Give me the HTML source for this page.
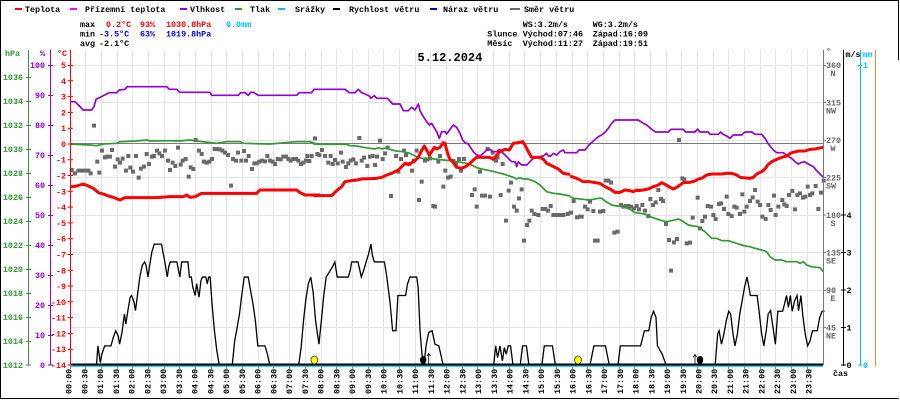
<!DOCTYPE html>
<html><head><meta charset="utf-8">
<style>
html,body{margin:0;padding:0;background:#fff;}
svg{display:block;}
text{font-family:"Liberation Mono","DejaVu Sans Mono",monospace;font-size:8.4px;font-weight:bold;}
</style></head><body>
<svg width="900" height="400" viewBox="0 0 900 400" xmlns="http://www.w3.org/2000/svg">
<rect width="900" height="400" fill="#fff"/>
<!-- frame -->
<g fill="#000">
<rect x="0" y="0" width="899" height="1"/>
<rect x="0" y="0" width="1" height="399"/>
<rect x="0" y="398" width="899" height="1"/>
<rect x="898" y="0" width="1" height="60"/>
</g>

<!-- legend -->
<rect x="15" y="8" width="7" height="2" fill="#ff0000"/><text x="25" y="12">Teplota</text>
<rect x="70" y="8" width="7" height="2" fill="#ff00ff"/><text x="85" y="12">Přízemní teplota</text>
<rect x="180" y="8" width="7" height="2" fill="#9400d3"/><text x="190" y="12">Vlhkost</text>
<rect x="235" y="8" width="7" height="2" fill="#339933"/><text x="250" y="12">Tlak</text>
<rect x="278" y="8" width="7" height="2" fill="#00bfff"/><text x="295" y="12">Srážky</text>
<rect x="333" y="8" width="7" height="2" fill="#000"/><text x="349" y="12">Rychlost větru</text>
<rect x="430" y="8" width="7" height="2" fill="#0000cc"/><text x="443" y="12">Náraz větru</text>
<rect x="510" y="8" width="10" height="2" fill="#6a6a6a"/><text x="524" y="12">Směr větru</text>

<!-- stats -->
<text x="80" y="27">max</text><text x="106" y="27" fill="#ff0000">0.2°C</text><text x="140" y="27" fill="#ff0000">93%</text><text x="166" y="27" fill="#ff0000">1030.8hPa</text><text x="226" y="27" fill="#00bfff">0.0mm</text>
<text x="80" y="36.5">min</text><text x="99" y="36.5" fill="#0000dd">-3.5°C</text><text x="140" y="36.5" fill="#0000dd">63%</text><text x="166" y="36.5" fill="#0000dd">1019.8hPa</text>
<text x="80" y="46">avg</text><text x="99" y="46">-2.1°C</text>
<text x="522.7" y="27">WS:3.2m/s</text><text x="592.7" y="27">WG:3.2m/s</text>
<text x="487.3" y="36.5">Slunce</text><text x="522.7" y="36.5">Východ:07:46</text><text x="592.7" y="36.5">Západ:16:09</text>
<text x="487.3" y="46">Měsíc</text><text x="522.7" y="46">Východ:11:27</text><text x="592.7" y="46">Západ:19:51</text>

<!-- grid -->
<g stroke="#e4e4e4" stroke-width="1">
<path d="M85.5 50V365M101.5 50V365M117.5 50V365M132.5 50V365M148.5 50V365M164.5 50V365M179.5 50V365M195.5 50V365M211.5 50V365M226.5 50V365M242.5 50V365M258.5 50V365M273.5 50V365M289.5 50V365M305.5 50V365M321.5 50V365M336.5 50V365M352.5 50V365M368.5 50V365M383.5 50V365M399.5 50V365M415.5 50V365M430.5 50V365M446.5 50V365M462.5 50V365M477.5 50V365M493.5 50V365M509.5 50V365M524.5 50V365M540.5 50V365M556.5 50V365M572.5 50V365M587.5 50V365M603.5 50V365M619.5 50V365M634.5 50V365M650.5 50V365M666.5 50V365M681.5 50V365M697.5 50V365M713.5 50V365M728.5 50V365M744.5 50V365M760.5 50V365M775.5 50V365M791.5 50V365M807.5 50V365"/>
<path d="M70 65.5H823M70 102.5H823M70 140.5H823M70 177.5H823M70 215.5H823M70 252.5H823M70 290.5H823M70 327.5H823"/>
</g>
<!-- 0°C line -->
<path d="M70 143.5H823" stroke="#7a7a7a" stroke-width="1"/>

<!-- title -->
<text x="417.5" y="61" style="font-size:12px;font-weight:bold">5.12.2024</text>

<!-- wind direction squares -->
<g fill="none" stroke="#6a6a6a" stroke-width="12" stroke-linecap="square">
<path transform="translate(70,60) scale(0.333333)" d="M5 330h.01M15 340h.01M25 332h.01M35 332h.01M45 332h.01M55 332h.01M62 340h.01M72 197h.01M82 305h.01M88 338h.01M96 272h.01M105 292h.01M112 290h.01M120 290h.01M126 270h.01M135 320h.01M143 298h.01M150 308h.01M158 296h.01M168 332h.01M175 288h.01M181 323h.01M189 335h.01M198 288h.01M206 353h.01M213 326h.01M222 320h.01M230 282h.01M237 312h.01M246 290h.01M252 288h.01M261 272h.01M268 280h.01M276 288h.01M285 272h.01M294 302h.01M300 330h.01M308 308h.01M316 318h.01M324 263h.01M332 314h.01M338 302h.01M347 297h.01M356 350h.01M362 322h.01M370 327h.01M377 240h.01M387 272h.01M395 282h.01M402 305h.01M410 308h.01M418 305h.01M426 297h.01M434 267h.01M441 267h.01M449 268h.01M457 272h.01M465 278h.01M474 285h.01M483 377h.01M489 297h.01M498 302h.01M504 278h.01M514 302h.01M522 273h.01M528 302h.01M536 288h.01M546 327h.01M553 310h.01M560 310h.01M568 305h.01M576 302h.01M585 304h.01M592 288h.01M600 302h.01M608 305h.01M615 312h.01M623 297h.01M632 298h.01M640 290h.01M648 290h.01M655 297h.01M662 302h.01M670 297h.01M678 297h.01M685 302h.01M693 312h.01M700 308h.01M708 302h.01M712 288h.01M718 303h.01"/>
<path transform="translate(310,70) scale(0.333333)" d="M5 258h.01M15 205h.01M22 252h.01M28 255h.01M36 240h.01M45 258h.01M55 278h.01M62 258h.01M68 282h.01M75 270h.01M83 280h.01M93 248h.01M98 275h.01M108 291h.01M115 280h.01M122 272h.01M130 268h.01M138 280h.01M148 204h.01M155 272h.01M162 263h.01M172 288h.01M180 260h.01M188 258h.01M195 285h.01M201 260h.01M210 212h.01M218 267h.01M225 250h.01M233 233h.01M243 378h.01M258 258h.01M265 305h.01M273 267h.01M282 242h.01M288 255h.01M298 282h.01M306 302h.01M312 272h.01M320 242h.01M327 390h.01M335 335h.01M345 272h.01M352 268h.01M360 265h.01M370 408h.01M375 410h.01M385 275h.01M390 258h.01M400 350h.01M406 302h.01M414 323h.01M422 320h.01M430 273h.01M438 282h.01M447 267h.01M453 302h.01M462 267h.01M486 375h.01M494 358h.01M500 410h.01M510 305h.01M516 377h.01M525 377h.01M533 237h.01M540 380h.01M548 248h.01M558 272h.01M563 262h.01M572 375h.01M578 282h.01M588 452h.01M596 362h.01M603 338h.01M612 410h.01M620 422h.01M627 385h.01M635 358h.01M642 512h.01M651 465h.01M658 452h.01M665 422h.01M673 432h.01M685 435h.01M698 417h.01M706 417h.01M714 422h.01M722 408h.01M730 435h.01M740 435h.01M750 435h.01M760 435h.01"/>
<path transform="translate(565,70) scale(0.333333)" d="M8 432h.01M18 428h.01M26 393h.01M36 442h.01M45 440h.01M50 440h.01M60 410h.01M68 418h.01M75 395h.01M85 423h.01M90 512h.01M98 512h.01M105 425h.01M115 423h.01M122 332h.01M130 332h.01M138 338h.01M148 488h.01M158 485h.01M168 405h.01M175 410h.01M183 408h.01M190 408h.01M198 410h.01M207 415h.01M215 408h.01M222 418h.01M232 405h.01M240 422h.01M250 438h.01M256 387h.01M264 405h.01M272 397h.01M280 360h.01M288 387h.01M294 393h.01M303 462h.01M312 510h.01M318 602h.01M327 517h.01M336 507h.01M342 210h.01M352 325h.01M358 328h.01M365 520h.01M375 518h.01M383 443h.01M398 383h.01M405 475h.01M412 453h.01M420 440h.01M428 408h.01M438 410h.01M445 435h.01M452 447h.01M462 402h.01M468 400h.01M477 417h.01M485 380h.01M490 432h.01M500 438h.01M508 410h.01M515 413h.01M525 432h.01M532 373h.01M538 425h.01M545 410h.01M555 393h.01M563 382h.01M570 360h.01M578 395h.01M585 405h.01M592 440h.01M602 447h.01M610 405h.01M617 420h.01M627 377h.01M632 435h.01M640 410h.01M652 390h.01M658 403h.01M665 408h.01M672 375h.01M682 363h.01M690 418h.01M697 375h.01M705 370h.01M714 383h.01M721 380h.01M728 350h.01M735 375h.01M742 370h.01M752 348h.01M760 417h.01M768 368h.01M776 332h.01"/>
</g>

<!-- pressure -->
<g fill="none" stroke="#339933" stroke-width="1.7" stroke-linejoin="round">
<polyline vector-effect="non-scaling-stroke" transform="translate(70,60) scale(0.333333)" points="0,252 60,255 80,257 100,252 140,250 150,245 200,243 230,240 240,243 290,242 330,243 360,240 380,243 440,250 470,245 510,245 520,250 600,252 680,245 720,245 740,252 750,252"/>
<polyline vector-effect="non-scaling-stroke" transform="translate(310,70) scale(0.333333)" points="10,222 30,223 60,223 110,223 120,227 140,228 160,232 180,235 195,237 205,233 215,237 230,233 245,240 260,243 280,245 300,250 320,260 335,265 350,265 375,267 400,270 420,272 440,275 460,278 480,283 500,293 520,298 540,302 560,307 580,312 595,317 610,322 620,327 630,323 640,327 655,327 675,335 690,345 710,365 730,370 750,372 765,375 780,378"/>
<polyline vector-effect="non-scaling-stroke" transform="translate(565,70) scale(0.333333)" points="15,380 25,385 55,388 70,390 85,388 100,385 110,385 120,393 140,405 155,408 170,408 180,412 195,418 210,428 225,430 240,432 255,440 270,445 290,452 305,455 320,452 340,447 355,455 370,465 385,468 400,470 420,485 440,505 455,505 470,512 490,512 520,522 540,528 555,530 570,535 590,540 605,545 615,560 630,570 650,570 665,575 695,575 705,580 715,575 725,585 740,590 765,593 775,605"/>
</g>

<!-- humidity -->
<g fill="none" stroke="#9400d3" stroke-width="1.7" stroke-linejoin="round">
<polyline vector-effect="non-scaling-stroke" transform="translate(70,60) scale(0.333333)" points="0,125 15,125 25,135 40,150 65,150 72,140 78,118 90,112 100,107 118,98 140,98 148,90 165,88 172,80 290,80 298,88 320,88 330,97 420,97 425,106 505,106 512,98 525,98 535,106 542,97 550,97 565,106 680,106 688,98 725,98 732,88 750,88"/>
<polyline vector-effect="non-scaling-stroke" transform="translate(310,70) scale(0.333333)" points="10,58 105,58 118,68 135,68 145,58 155,68 165,72 178,78 183,85 188,80 193,77 200,85 232,85 240,93 248,102 270,102 280,122 295,122 305,112 315,120 325,102 330,122 340,140 350,155 358,165 365,160 372,172 380,185 388,205 395,185 405,185 410,192 420,178 430,165 440,172 450,190 458,210 465,218 475,222 490,245 500,255 510,258 520,250 530,240 540,238 550,245 560,245 568,238 575,245 585,255 595,265 605,275 615,275 620,290 625,275 635,285 650,285 660,275 670,265 690,260 700,258 710,250 715,258 722,258 730,250 740,255 750,245 760,240 765,248 780,248"/>
<polyline vector-effect="non-scaling-stroke" transform="translate(565,70) scale(0.333333)" points="15,248 35,248 42,240 60,240 72,225 85,213 100,200 110,195 120,187 130,175 140,160 150,150 220,150 230,157 245,165 260,178 272,186 310,186 318,178 355,178 362,186 390,186 398,177 405,186 430,186 435,193 460,193 467,186 475,193 485,198 495,205 505,195 530,195 540,186 560,186 570,193 590,193 600,205 610,222 625,240 635,248 655,248 668,258 680,265 690,275 700,282 708,278 718,275 735,285 745,290 755,302 765,312 775,322"/>
</g>

<!-- temperature -->
<g fill="none" stroke="#ff0000" stroke-width="3" stroke-linejoin="round">
<polyline vector-effect="non-scaling-stroke" transform="translate(70,60) scale(0.333333)" points="0,381 20,378 40,372 55,378 70,385 85,398 100,402 115,408 130,412 150,420 165,413 260,413 300,410 340,410 350,405 360,412 375,410 385,405 395,400 560,400 570,390 680,390 690,398 705,405 750,405"/>
<polyline vector-effect="non-scaling-stroke" transform="translate(310,70) scale(0.333333)" points="10,377 65,377 80,362 95,350 105,335 125,332 140,330 155,327 200,325 215,322 230,315 245,310 255,305 265,300 275,290 285,280 295,283 305,278 315,272 325,262 333,245 343,228 350,240 358,255 365,245 373,232 380,237 390,232 400,218 405,220 410,240 418,265 428,275 440,292 455,295 470,288 480,280 490,270 500,262 540,262 550,268 560,255 570,245 585,238 598,240 610,220 625,218 638,215 645,225 655,245 665,262 690,262 700,268 710,280 725,287 745,297 760,310 780,313"/>
<polyline vector-effect="non-scaling-stroke" transform="translate(565,70) scale(0.333333)" points="15,318 35,325 55,335 75,335 90,338 105,340 120,350 135,357 150,367 165,367 180,360 195,362 205,365 215,360 220,362 235,360 250,357 265,350 280,345 290,338 300,343 315,352 325,357 335,352 345,345 355,338 375,337 390,333 400,327 410,325 425,315 440,312 470,312 485,310 500,310 515,315 525,322 555,325 565,322 575,312 590,305 600,297 608,285 620,275 635,268 650,262 665,258 680,248 700,243 720,243 735,238 750,237 760,235 775,232"/>
</g>

<!-- wind speed -->
<polyline vector-effect="non-scaling-stroke" transform="translate(70,233.4) scale(0.4815,0.3357)" fill="none" stroke="#000" stroke-width="1.3" points="0,392 55,392 58,335 63,385 66,360 72,335 85,335 90,310 95,290 100,305 103,330 108,295 113,240 116,270 120,232 125,190 128,185 133,205 136,230 140,185 145,130 150,95 155,85 158,95 162,130 165,100 170,55 175,32 190,32 193,55 197,85 202,130 205,100 208,85 222,85 228,130 232,85 245,85 248,130 252,130 255,160 260,185 263,150 268,190 272,140 275,130 282,130 285,150 288,130 291,130 295,210 300,290 305,350 310,392 337,392 342,320 346,290 352,240 357,180 362,130 370,130 375,170 380,210 385,260 390,335 405,335 410,360 415,392 475,392 480,340 485,260 490,195 495,150 500,130 505,175 510,260 517,330 522,260 527,185 532,130 545,100 550,85 555,130 578,130 582,110 585,85 598,85 602,110 605,130 610,110 615,85 620,62 625,32 628,65 632,85 653,85 658,130 665,210 670,290 677,290 681,185 697,185 701,150 706,130 720,130 723,160 727,290 731,360 735,392 740,330 745,295 752,290 758,330 766,335 770,360 775,392 880,392 884,335 888,370 893,335 898,380 902,340 906,360 910,335 915,335 920,392 935,392 940,335 948,335 953,392 980,392 985,335 1002,335 1008,392 1080,392 1088,335 1112,335 1120,392 1138,392 1143,335 1185,335 1193,290 1202,290 1207,250 1212,232 1217,250 1220,335 1230,360 1238,392 1340,392 1345,300 1348,290 1353,330 1358,300 1363,260 1368,232 1372,240 1377,300 1381,335 1386,300 1391,240 1396,200 1401,160 1406,130 1410,160 1413,185 1427,185 1431,230 1436,295 1441,335 1446,290 1450,240 1455,230 1458,260 1462,300 1465,330 1470,232 1480,232 1484,210 1488,185 1492,220 1496,185 1500,232 1505,200 1510,185 1513,230 1518,185 1522,245 1527,300 1532,335 1537,320 1542,290 1552,290 1557,250 1562,232 1567,232"/>

<!-- baseline -->
<rect x="70" y="363.5" width="753" height="2" fill="#000"/>
<rect x="70" y="365.5" width="753" height="1.3" fill="#00bfff"/>

<!-- sun/moon markers -->
<ellipse cx="314.4" cy="360" rx="3.4" ry="4" fill="#ffff00" stroke="#333" stroke-width="0.8"/>
<ellipse cx="578" cy="360" rx="3.4" ry="4" fill="#ffff00" stroke="#333" stroke-width="0.8"/>
<ellipse cx="423.2" cy="360" rx="3.2" ry="4" fill="#000"/>
<ellipse cx="700" cy="360" rx="3.2" ry="4" fill="#000"/>
<g stroke="#000" stroke-width="0.8" fill="none">
<path d="M428.7 365V354M427 356L428.7 353.5L430.4 356"/>
<path d="M695 365V355M693.3 357L695 354.5L696.7 357"/>
</g>

<!-- x ticks -->
<path stroke="#888" stroke-width="1" d="M70.5 366V369M85.5 366V369M101.5 366V369M117.5 366V369M132.5 366V369M148.5 366V369M164.5 366V369M179.5 366V369M195.5 366V369M211.5 366V369M226.5 366V369M242.5 366V369M258.5 366V369M273.5 366V369M289.5 366V369M305.5 366V369M321.5 366V369M336.5 366V369M352.5 366V369M368.5 366V369M383.5 366V369M399.5 366V369M415.5 366V369M430.5 366V369M446.5 366V369M462.5 366V369M477.5 366V369M493.5 366V369M509.5 366V369M524.5 366V369M540.5 366V369M556.5 366V369M572.5 366V369M587.5 366V369M603.5 366V369M619.5 366V369M634.5 366V369M650.5 366V369M666.5 366V369M681.5 366V369M697.5 366V369M713.5 366V369M728.5 366V369M744.5 366V369M760.5 366V369M775.5 366V369M791.5 366V369M807.5 366V369"/>

<!-- x labels -->
<g>
<text transform="translate(71.7,394) rotate(-90)">00:00</text>
<text transform="translate(87.4,394) rotate(-90)">00:30</text>
<text transform="translate(103.2,394) rotate(-90)">01:00</text>
<text transform="translate(118.9,394) rotate(-90)">01:30</text>
<text transform="translate(134.7,394) rotate(-90)">02:00</text>
<text transform="translate(150.4,394) rotate(-90)">02:30</text>
<text transform="translate(166.2,394) rotate(-90)">03:00</text>
<text transform="translate(181.9,394) rotate(-90)">03:30</text>
<text transform="translate(197.7,394) rotate(-90)">04:00</text>
<text transform="translate(213.4,394) rotate(-90)">04:30</text>
<text transform="translate(229.2,394) rotate(-90)">05:00</text>
<text transform="translate(244.9,394) rotate(-90)">05:30</text>
<text transform="translate(260.6,394) rotate(-90)">06:00</text>
<text transform="translate(276.4,394) rotate(-90)">06:30</text>
<text transform="translate(292.1,394) rotate(-90)">07:00</text>
<text transform="translate(307.9,394) rotate(-90)">07:30</text>
<text transform="translate(323.6,394) rotate(-90)">08:00</text>
<text transform="translate(339.4,394) rotate(-90)">08:30</text>
<text transform="translate(355.1,394) rotate(-90)">09:00</text>
<text transform="translate(370.9,394) rotate(-90)">09:30</text>
<text transform="translate(386.6,394) rotate(-90)">10:00</text>
<text transform="translate(402.3,394) rotate(-90)">10:30</text>
<text transform="translate(418.1,394) rotate(-90)">11:00</text>
<text transform="translate(433.8,394) rotate(-90)">11:30</text>
<text transform="translate(449.6,394) rotate(-90)">12:00</text>
<text transform="translate(465.3,394) rotate(-90)">12:30</text>
<text transform="translate(481.1,394) rotate(-90)">13:00</text>
<text transform="translate(496.8,394) rotate(-90)">13:30</text>
<text transform="translate(512.6,394) rotate(-90)">14:00</text>
<text transform="translate(528.3,394) rotate(-90)">14:30</text>
<text transform="translate(544.1,394) rotate(-90)">15:00</text>
<text transform="translate(559.8,394) rotate(-90)">15:30</text>
<text transform="translate(575.5,394) rotate(-90)">16:00</text>
<text transform="translate(591.3,394) rotate(-90)">16:30</text>
<text transform="translate(607,394) rotate(-90)">17:00</text>
<text transform="translate(622.8,394) rotate(-90)">17:30</text>
<text transform="translate(638.5,394) rotate(-90)">18:00</text>
<text transform="translate(654.3,394) rotate(-90)">18:30</text>
<text transform="translate(670,394) rotate(-90)">19:00</text>
<text transform="translate(685.8,394) rotate(-90)">19:30</text>
<text transform="translate(701.5,394) rotate(-90)">20:00</text>
<text transform="translate(717.2,394) rotate(-90)">20:30</text>
<text transform="translate(733,394) rotate(-90)">21:00</text>
<text transform="translate(748.7,394) rotate(-90)">21:30</text>
<text transform="translate(764.5,394) rotate(-90)">22:00</text>
<text transform="translate(780.2,394) rotate(-90)">22:30</text>
<text transform="translate(796,394) rotate(-90)">23:00</text>
<text transform="translate(811.7,394) rotate(-90)">23:30</text>
</g>
<text x="833" y="376">čas</text>

<!-- left axes -->
<g stroke-width="1">
<path d="M28.5 50V365" stroke="#339933"/>
<path d="M50.5 50V365" stroke="#9400d3"/>
<path d="M70.5 50V365" stroke="#ff0000"/>
<path stroke="#339933" d="M26 77.5H31M26 101.5H31M26 125.5H31M26 149.5H31M26 173.5H31M26 197.5H31M26 221.5H31M26 245.5H31M26 269.5H31M26 293.5H31M26 317.5H31M26 341.5H31M26 365H31"/>
<path stroke="#9400d3" d="M48 65.5H53M48 95.5H53M48 125.5H53M48 155.5H53M48 185.5H53M48 215.5H53M48 245.5H53M48 275.5H53M48 305.5H53M48 335.5H53M48 365H53"/>
<path stroke="#ff0000" d="M67.5 65.5H73M67.5 80.8H73M67.5 96.6H73M67.5 112.4H73M67.5 128.2H73M67.5 144H73M67.5 159.7H73M67.5 175.5H73M67.5 191.3H73M67.5 207.1H73M67.5 222.9H73M67.5 238.7H73M67.5 254.5H73M67.5 270.3H73M67.5 286H73M67.5 301.8H73M67.5 317.6H73M67.5 333.4H73M67.5 349.2H73M67.5 365H73"/>
</g>
<text x="5" y="56" fill="#339933">hPa</text>
<text x="40" y="56" fill="#9400d3">%</text>
<text x="57" y="56" fill="#ff0000">°C</text>
<g fill="#339933" text-anchor="end">
<text x="23" y="80">1036</text><text x="23" y="104">1034</text><text x="23" y="128">1032</text><text x="23" y="152">1030</text><text x="23" y="176">1028</text><text x="23" y="200">1026</text><text x="23" y="224">1024</text><text x="23" y="248">1022</text><text x="23" y="272">1020</text><text x="23" y="296">1018</text><text x="23" y="320">1016</text><text x="23" y="344">1014</text><text x="23" y="368">1012</text>
</g>
<g fill="#9400d3" text-anchor="end">
<text x="45" y="68">100</text><text x="45" y="98">90</text><text x="45" y="128">80</text><text x="45" y="158">70</text><text x="45" y="188">60</text><text x="45" y="218">50</text><text x="45" y="248">40</text><text x="45" y="278">30</text><text x="45" y="308">20</text><text x="45" y="338">10</text><text x="45" y="368">0</text>
</g>
<g fill="#ff0000" text-anchor="end">
<text x="66" y="68">5</text><text x="66" y="83.8">4</text><text x="66" y="99.6">3</text><text x="66" y="115.4">2</text><text x="66" y="131.2">1</text><text x="66" y="147">0</text><text x="66" y="162.7">-1</text><text x="66" y="178.5">-2</text><text x="66" y="194.3">-3</text><text x="66" y="210.1">-4</text><text x="66" y="225.9">-5</text><text x="66" y="241.7">-6</text><text x="66" y="257.5">-7</text><text x="66" y="273.3">-8</text><text x="66" y="289">-9</text><text x="66" y="304.8">-10</text><text x="66" y="320.6">-11</text><text x="66" y="336.4">-12</text><text x="66" y="352.2">-13</text><text x="66" y="368">-14</text>
</g>

<!-- right axes -->
<g stroke-width="1">
<path d="M823.5 50V365" stroke="#777"/>
<path d="M843.5 50V366" stroke="#000"/>
<path d="M860.5 50V366" stroke="#00bfff"/>
<path d="M875.5 50V366" stroke="#e8892c"/>
<path stroke="#777" d="M823 65.5H826M823 102.5H826M823 140.5H826M823 177.5H826M823 215H826M823 252.5H826M823 290.5H826M823 327.5H826"/>
<path stroke="#000" d="M841 215H846M841 252.5H846M841 290H846M841 327.5H846M841 365H846"/>
<path stroke="#00bfff" d="M858 65.5H862M858 365H862"/>
</g>
<text x="826" y="54" fill="#666">°</text>
<text x="845.5" y="57">m/s</text>
<text x="862.5" y="57" fill="#00bfff">mm</text>
<g fill="#666">
<text x="826" y="68">360</text><text x="830.5" y="76">N</text>
<text x="826" y="105.5">315</text><text x="826" y="113.5">NW</text>
<text x="826" y="143">270</text><text x="830.5" y="151">W</text>
<text x="826" y="180.5">225</text><text x="826" y="188.5">SW</text>
<text x="826" y="218">180</text><text x="830.5" y="226">S</text>
<text x="826" y="255.5">135</text><text x="826" y="263.5">SE</text>
<text x="826" y="293">90</text><text x="830.5" y="301">E</text>
<text x="826" y="330.5">45</text><text x="826" y="338.5">NE</text>
</g>
<g fill="#000">
<text x="846.5" y="218">4</text><text x="846.5" y="255.5">3</text><text x="846.5" y="293">2</text><text x="846.5" y="330.5">1</text><text x="846.5" y="368">0</text>
</g>
<g fill="#00bfff">
<text x="863" y="68">1</text><text x="863" y="368">0</text>
</g>
</svg>
</body></html>
